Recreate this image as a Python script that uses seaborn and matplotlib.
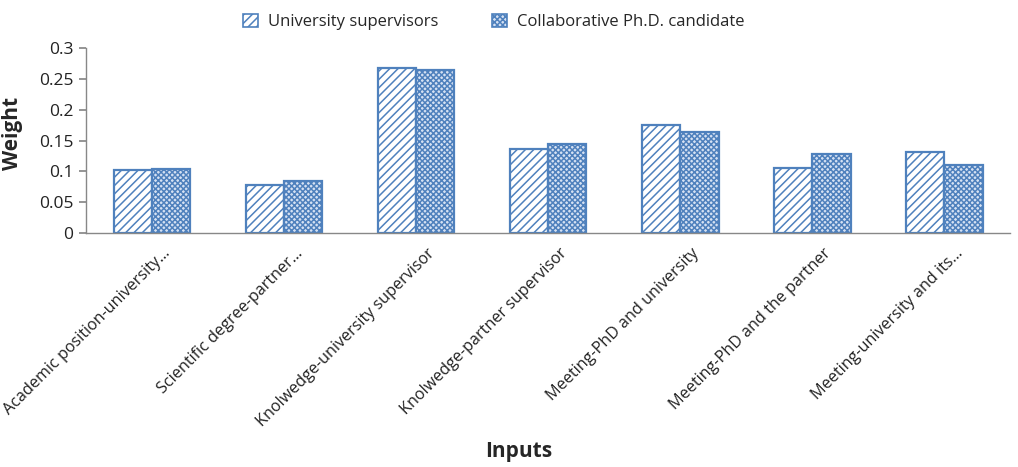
import matplotlib
matplotlib.use("Agg")
import matplotlib.pyplot as plt
import seaborn as sns
import pandas as pd
from matplotlib.patches import Patch

categories = ["Academic position-university...", "Scientific degree-partner...",
              "Knolwedge-university supervisor", "Knolwedge-partner supervisor",
              "Meeting-PhD and university", "Meeting-PhD and the partner",
              "Meeting-university and its..."]
series_names = ["University supervisors", "Collaborative Ph.D. candidate"]
university = [0.102, 0.078, 0.268, 0.137, 0.176, 0.106, 0.131]
candidate = [0.104, 0.084, 0.265, 0.144, 0.164, 0.128, 0.111]
yticks = [0, 0.05, 0.1, 0.15, 0.2, 0.25, 0.3]
ytick_labels = ["0", "0.05", "0.1", "0.15", "0.2", "0.25", "0.3"]

sns.set_theme(style="white")
plt.rcParams['font.family'] = ['Open Sans', 'DejaVu Sans']
plt.rcParams['hatch.linewidth'] = 1.1

df = pd.DataFrame({
    "Inputs": categories * 2,
    "Weight": university + candidate,
    "Series": [series_names[0]] * len(categories) + [series_names[1]] * len(categories),
})

edge = "#4F81BD"
fig = plt.figure(figsize=(10.18, 4.67), dpi=100)
ax = fig.add_axes([0.0845, 0.501, 0.908, 0.396])
sns.barplot(data=df, x="Inputs", y="Weight", hue="Series", order=categories,
            hue_order=series_names, palette=["white", "#d5e1f3"], width=0.58,
            ax=ax, legend=False)

n = len(categories)
styles = [("white", "////"), ("#d5e1f3", "xxxxxx")]
for i, p in enumerate(ax.patches[:2 * n]):
    fc, h = styles[i // n]
    p.set_facecolor(fc)
    p.set_edgecolor(edge)
    p.set_hatch(h)
    p.set_linewidth(1.6)

ax.set_ylim(0, 0.3)
ax.set_yticks(yticks)
ax.set_yticklabels(ytick_labels, fontsize=12.5, color="#222222")
ax.set_xlim(-0.5, n - 0.5)
ax.set_xticks([i + 0.08 for i in range(n)])
ax.set_xticklabels(categories, rotation=45, ha="right", rotation_mode="anchor",
                   fontsize=11.6, color="#222222")
ax.set_xticks([i - 0.5 for i in range(n + 1)], minor=True)
ax.tick_params(axis="x", which="major", length=0, pad=9)
ax.tick_params(axis="x", which="minor", length=5, color="#888888", direction="out")
ax.tick_params(axis="y", length=5, color="#888888", direction="out", left=True, pad=4)
for s in ["top", "right"]:
    ax.spines[s].set_visible(False)
for s in ["left", "bottom"]:
    ax.spines[s].set_color("#888888")
    ax.spines[s].set_linewidth(1.0)

ax.set_ylabel("Weight", fontsize=15, fontweight="bold", labelpad=8)
ax.yaxis.set_label_coords(-0.068, 0.54)
ax.set_xlabel("")
fig.text(0.51, 0.022, "Inputs", fontsize=15, fontweight="bold", ha="center")

handles = [Patch(facecolor=styles[k][0], edgecolor=edge, hatch=styles[k][1], linewidth=1.2)
           for k in range(2)]
fig.legend(handles, series_names, loc="center", bbox_to_anchor=(0.485, 0.953), ncol=2,
           frameon=False, fontsize=12, handlelength=0.9, handleheight=0.9,
           columnspacing=3.2, handletextpad=0.6)

fig.savefig("out.png", dpi=100)
